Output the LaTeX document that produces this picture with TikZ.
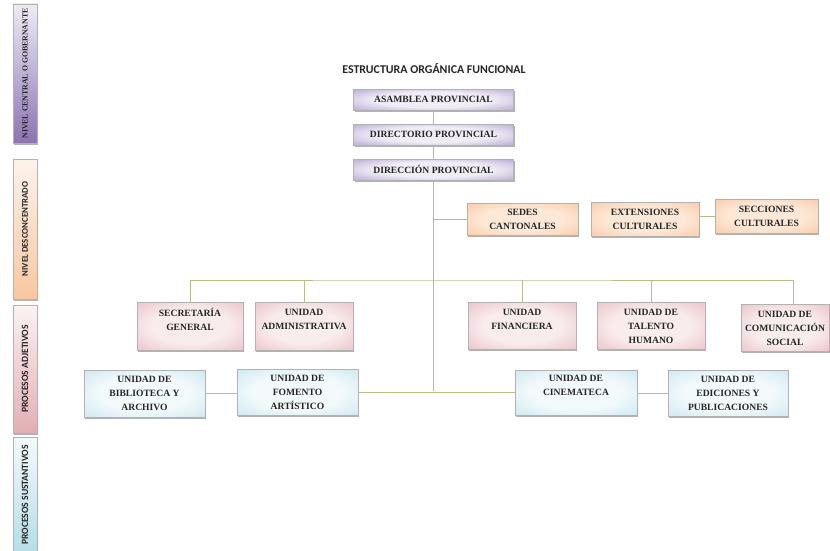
\documentclass[tikz,border=0pt]{standalone}
\usepackage{fontspec}
\setmainfont{Liberation Serif}
\newfontfamily\sansb{Carlito}
\usetikzlibrary{shadows}
\definecolor{pin}{HTML}{F1EDF7}\definecolor{pout}{HTML}{8E77B5}
\definecolor{oin}{HTML}{FDE8D7}\definecolor{oout}{HTML}{F7B585}
\definecolor{kin}{HTML}{F9ECED}\definecolor{kout}{HTML}{DFA6AD}
\definecolor{bin}{HTML}{F3FAFC}\definecolor{bout}{HTML}{B3DBE6}
\definecolor{linec}{HTML}{B7BE8E}
\definecolor{bp1}{HTML}{EFEBF5}\definecolor{bp2}{HTML}{8B74B2}
\definecolor{bo1}{HTML}{FDF3EC}\definecolor{bo2}{HTML}{F8C6A0}
\definecolor{bk1}{HTML}{FBF3F3}\definecolor{bk2}{HTML}{E2AEB3}
\definecolor{bb1}{HTML}{F4FAFC}\definecolor{bb2}{HTML}{B5DCE7}
\pgfdeclareradialshading{rpurple}{\pgfpoint{0bp}{0bp}}{color(0bp)=(pin); color(18bp)=(pin); color(50bp)=(pout); color(75bp)=(pout)}
\pgfdeclareradialshading{rorange}{\pgfpoint{0bp}{0bp}}{color(0bp)=(oin); color(18bp)=(oin); color(50bp)=(oout); color(75bp)=(oout)}
\pgfdeclareradialshading{rpink}{\pgfpoint{0bp}{0bp}}{color(0bp)=(kin); color(18bp)=(kin); color(50bp)=(kout); color(75bp)=(kout)}
\pgfdeclareradialshading{rblue}{\pgfpoint{0bp}{0bp}}{color(0bp)=(bin); color(18bp)=(bin); color(50bp)=(bout); color(75bp)=(bout)}
\begin{document}
\begin{tikzpicture}[x=1pt,y=-1pt,
  basebox/.style={rectangle, draw=black!30, line width=0.4pt, align=center,
    font=\bfseries\fontsize{9.6}{14}\selectfont, text=black!85, inner sep=1pt,
    drop shadow={shadow xshift=1pt,shadow yshift=-1.5pt,opacity=0.3,fill=black}},
  purplebox/.style={basebox, shading=rpurple},
  orangebox/.style={basebox, shading=rorange},
  pinkbox/.style={basebox, shading=rpink},
  bluebox/.style={basebox, shading=rblue},
  sidebar/.style={rectangle, draw=black!30, line width=0.4pt, rotate=90,
    minimum height=24pt, inner sep=1pt, text=black!85,
    drop shadow={shadow xshift=1pt,shadow yshift=-1.5pt,opacity=0.3,fill=black}},
  conn/.style={draw=linec, line width=0.8pt}
]
\useasboundingbox (0,0) rectangle (830,551);
\fill[white] (0,0) rectangle (830,551);

% side bars
\node[sidebar, top color=bp1, bottom color=bp2, minimum width=139pt,
  font=\bfseries\fontsize{7.8}{9}\selectfont] (s1) at (25,73.5) {NIVEL CENTRAL O GOBERNANTE};
\node[sidebar, top color=bo1, bottom color=bo2, minimum width=140pt,
  font=\sansb\bfseries\fontsize{8.8}{10}\selectfont] (s2) at (25,229) {NIVEL DESCONCENTRADO};
\node[sidebar, top color=bk1, bottom color=bk2, minimum width=128pt,
  font=\sansb\bfseries\fontsize{9.6}{10}\selectfont] (s3) at (25,369) {PROCESOS ADJETIVOS};
\node[sidebar, top color=bb1, bottom color=bb2, minimum width=116pt,
  font=\sansb\bfseries\fontsize{9.6}{10}\selectfont] (s4) at (25,495) {PROCESOS SUSTANTIVOS};

% title
\node[font=\sansb\bfseries\fontsize{11.9}{13}\selectfont, text=black!85] (title) at (434,69) {ESTRUCTURA ORGÁNICA FUNCIONAL};

% top boxes
\node[purplebox, minimum width=160pt, minimum height=21pt] (asamblea) at (433.5,99.5) {ASAMBLEA PROVINCIAL};
\node[purplebox, minimum width=160pt, minimum height=21pt] (directorio) at (433.5,134.5) {DIRECTORIO PROVINCIAL};
\node[purplebox, minimum width=160pt, minimum height=21pt] (direccion) at (433.5,169.5) {DIRECCIÓN PROVINCIAL};

% desconcentrado
\node[orangebox, minimum width=111pt, minimum height=32pt] (sedes) at (522.5,219) {SEDES\\CANTONALES};
\node[orangebox, minimum width=108pt, minimum height=34pt] (ext) at (645,219) {EXTENSIONES\\CULTURALES};
\node[orangebox, minimum width=103pt, minimum height=34pt] (secc) at (766.5,216) {SECCIONES\\CULTURALES};

% adjetivos
\node[pinkbox, minimum width=106pt, minimum height=48pt] (secret) at (190,326) {SECRETARÍA\\GENERAL\\\mbox{}};
\node[pinkbox, minimum width=98pt, minimum height=48pt] (admin) at (304,326) {UNIDAD\\ADMINISTRATIVA\\\mbox{}};
\node[pinkbox, minimum width=108pt, minimum height=47pt] (financ) at (522,326) {UNIDAD\\FINANCIERA\\\mbox{}};
\node[pinkbox, minimum width=108pt, minimum height=47pt] (talento) at (651,326) {UNIDAD DE\\TALENTO\\HUMANO};
\node[pinkbox, minimum width=88pt, minimum height=47pt] (comun) at (785,328) {UNIDAD DE\\COMUNICACIÓN\\SOCIAL};

% sustantivos
\node[bluebox, minimum width=121pt, minimum height=47pt] (biblio) at (144.5,393.5) {UNIDAD DE\\BIBLIOTECA Y\\ARCHIVO};
\node[bluebox, minimum width=121pt, minimum height=46pt] (fomento) at (297.5,392) {UNIDAD DE\\FOMENTO\\ARTÍSTICO};
\node[bluebox, minimum width=122pt, minimum height=45pt] (cinema) at (576,392.5) {UNIDAD DE\\CINEMATECA\\\mbox{}};
\node[bluebox, minimum width=120pt, minimum height=46pt] (edic) at (728,393) {UNIDAD DE\\EDICIONES Y\\PUBLICACIONES};

% connectors
\coordinate (bus) at (433.5,280);
\coordinate (trunkend) at (433.5,391);
\draw[conn] (asamblea.south) -- (directorio.north);
\draw[conn] (directorio.south) -- (direccion.north);
\draw[conn] (direccion.south) -- (trunkend);
\draw[conn] (sedes.west) -- (sedes.west -| trunkend);
\draw[conn] (secc.west) -- (secc.west -| ext.east);
\draw[conn] (secret.north) |- (bus) -| ([xshift=8pt]comun.north);
\draw[conn] (admin.north) -- (admin.north |- bus);
\draw[conn] (financ.north) -- (financ.north |- bus);
\draw[conn] (talento.north) -- (talento.north |- bus);
\draw[conn] (fomento.east) -- (fomento.east -| trunkend);
\draw[conn] (cinema.west) -- (cinema.west -| trunkend);
\draw[conn] (biblio.east) -- (biblio.east -| fomento.west);
\draw[conn] (edic.west) -- (edic.west -| cinema.east);
\end{tikzpicture}
\end{document}
